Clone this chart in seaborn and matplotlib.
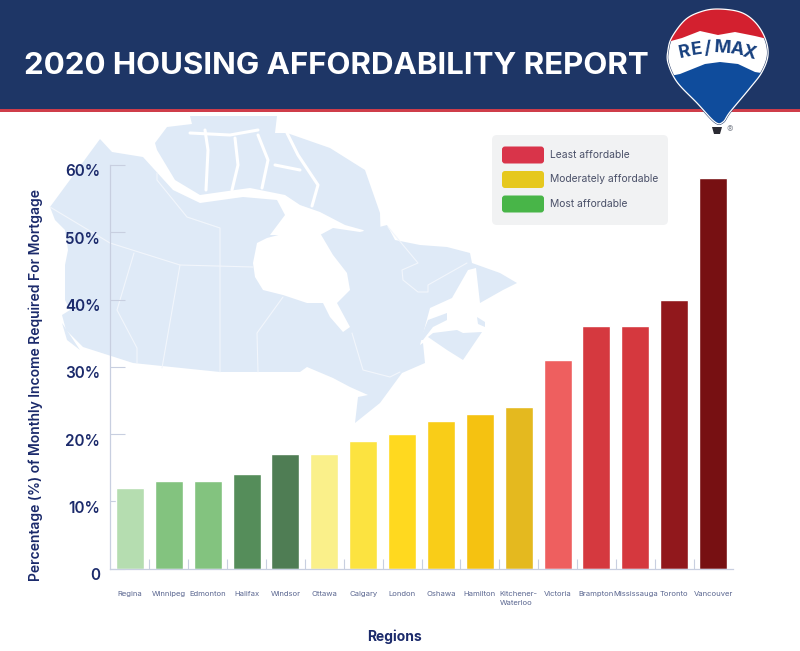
"""2020 housing affordability bar chart, with map backdrop and header."""

import matplotlib
matplotlib.use("Agg")
import matplotlib.pyplot as plt
import matplotlib.transforms as mtransforms
import numpy as np
import pandas as pd
import seaborn as sns
from matplotlib.patches import FancyBboxPatch, PathPatch, Polygon, Rectangle
from matplotlib.path import Path
from matplotlib.ticker import FixedLocator

REGIONS = ["Regina", "Winnipeg", "Edmonton", "Halifax", "Windsor", "Ottawa", "Calgary",
           "London", "Oshawa", "Hamilton", "Kitchener-\nWaterloo", "Victoria", "Brampton",
           "Mississauga", "Toronto", "Vancouver"]
INCOME_PCT = [12, 13, 13, 14, 17, 17, 19, 20, 22, 23, 24, 31, 36, 36, 40, 58]
BAR_COLORS = ["#B5DDB0", "#83C37F", "#83C37F", "#558D5A", "#4F7D54", "#FAF08A", "#FCE340",
              "#FFD91F", "#F9CD18", "#F5C211", "#E4B91F", "#EE5F5F", "#D5393F", "#D5383E",
              "#91181C", "#771012"]
LEGEND_LABELS = ["Least affordable", "Moderately affordable", "Most affordable"]
LEGEND_COLORS = ["#D9344A", "#E6C81E", "#48B548"]
Y_TICKS = [0, 10, 20, 30, 40, 50, 60]
Y_TICK_LABELS = ["0", "10%", "20%", "30%", "40%", "50%", "60%"]

NAVY = "#1E3666"
LABEL_NAVY = "#1B2A6B"
MAP_BLUE = "#DFEAF7"
AXIS_GREY = "#C8CFE0"

# rough outline of the backdrop map, in picture pixels
MAINLAND = [(50, 207), (100, 139), (112, 152), (143, 157), (173, 190), (200, 203), (243, 197),
            (277, 200), (285, 215), (270, 235), (320, 235), (333, 228), (360, 232), (387, 225),
            (395, 240), (420, 245), (447, 247), (470, 253), (472, 263), (500, 273), (517, 283),
            (503, 290), (480, 303), (476, 268), (468, 270), (452, 298), (430, 308), (420, 345),
            (423, 343), (425, 363), (402, 373), (380, 403), (355, 423), (358, 397), (368, 395),
            (350, 387), (333, 378), (307, 367), (300, 372), (220, 372), (133, 363), (83, 347),
            (66, 330), (62, 315), (70, 310), (65, 300), (65, 265), (68, 250), (65, 230), (55, 220)]
HUDSON_BAY = [(253, 263), (257, 243), (267, 238), (290, 232), (320, 233), (333, 255), (347, 273),
              (350, 290), (337, 303), (350, 327), (343, 332), (330, 317), (323, 303), (307, 303),
              (283, 295), (263, 290), (255, 277)]
ARCTIC = [(155, 143), (167, 127), (192, 124), (190, 116), (277, 116), (275, 133), (287, 133),
          (330, 148), (365, 170), (380, 213), (381, 245), (363, 230), (345, 225), (320, 212),
          (300, 205), (285, 195), (250, 188), (235, 190), (200, 195), (175, 180), (157, 150)]
ARCTIC_CHANNELS = [
    [(205, 130), (208, 150), (206, 190)],
    [(190, 133), (230, 135), (258, 130)],
    [(235, 138), (238, 165), (232, 190)],
    [(258, 135), (268, 160), (262, 188)],
    [(287, 133), (298, 155), (318, 185), (312, 206)],
    [(275, 165), (300, 170)],
]
ISLANDS = [
    [(62, 323), (80, 350), (67, 340)],
    [(420, 340), (428, 320), (447, 313), (447, 320), (433, 327), (423, 340)],
    [(433, 333), (457, 330), (463, 333), (482, 332), (463, 360), (447, 350), (428, 337)],
    [(477, 317), (485, 322), (485, 327), (478, 324)],
]
BORDERS = [
    [(50, 207), (110, 243), (180, 265), (253, 267)],
    [(134, 253), (117, 310), (137, 348), (137, 363)],
    [(180, 265), (162, 368)],
    [(157, 173), (157, 180), (187, 217), (220, 228), (220, 372)],
    [(283, 297), (257, 333), (258, 372)],
    [(352, 333), (363, 370), (390, 377), (400, 372)],
    [(388, 227), (418, 263), (402, 270), (403, 280), (418, 292), (428, 292), (428, 285), (467, 263)],
]

# balloon logo, in picture pixels
BALLOON = [(717, 9), (740, 12), (755, 22), (765, 38), (768, 55), (762, 72), (750, 88), (730, 112),
           (723, 122), (715, 122), (697, 103), (677, 82), (668, 63), (668, 50), (672, 37),
           (685, 20), (700, 12)]
BALLOON_RED = [(660, 0), (780, 0), (780, 42), (755, 36), (735, 32), (718, 35), (700, 31), (682, 38), (660, 44)]
BALLOON_BLUE = [(660, 78), (680, 74), (705, 64), (720, 62), (738, 64), (755, 72), (780, 76), (780, 130), (660, 130)]
LOGO_LETTERS = [("R", 685, 52, 12), ("E", 697, 50, 8), ("/", 708, 49, 4),
                ("M", 722, 48, -4), ("A", 737, 50, -10), ("X", 749, 53, -14)]


def smooth_closed(points, steps=12):
    """Closed Catmull-Rom curve through the given points."""
    pts = np.array(points, dtype=float)
    out = []
    n = len(pts)
    for i in range(n):
        p0, p1, p2, p3 = pts[i - 1], pts[i], pts[(i + 1) % n], pts[(i + 2) % n]
        for t in np.linspace(0, 1, steps, endpoint=False):
            out.append(0.5 * (2 * p1 + (p2 - p0) * t + (2 * p0 - 5 * p1 + 4 * p2 - p3) * t ** 2
                              + (3 * p1 - p0 - 3 * p2 + p3) * t ** 3))
    return np.array(out)


def draw_backdrop(bg):
    """Map, header band, logo and legend box on a pixel-coordinate axes."""
    bg.set_xlim(0, 800)
    bg.set_ylim(651, 0)
    bg.axis("off")

    bg.add_patch(Polygon(MAINLAND, fc=MAP_BLUE, ec="none"))
    bg.add_patch(Polygon(ARCTIC, fc=MAP_BLUE, ec="none"))
    bg.add_patch(Polygon(HUDSON_BAY, fc="white", ec="none"))
    for island in ISLANDS:
        bg.add_patch(Polygon(island, fc=MAP_BLUE, ec="none"))
    for line in ARCTIC_CHANNELS:
        xs, ys = zip(*line)
        bg.plot(xs, ys, color="white", lw=2.2)
    for line in BORDERS:
        xs, ys = zip(*line)
        bg.plot(xs, ys, color="#F2F6FC", lw=0.8)

    bg.add_patch(Rectangle((0, 0), 800, 109, fc=NAVY, ec="none"))
    bg.add_patch(Rectangle((0, 109), 800, 3, fc="#CF3D4A", ec="none"))
    bg.text(24, 66, "2020 HOUSING AFFORDABILITY REPORT", color="white", fontsize=22.5,
            fontweight="bold", va="center", ha="left")

    outline = smooth_closed(BALLOON)
    bg.add_patch(Polygon(outline, fc="white", ec=NAVY, lw=1.6, zorder=3))
    clip = PathPatch(Path(np.vstack([outline, outline[0]]), closed=True), transform=bg.transData,
                     fc="none", ec="none")
    bg.add_patch(clip)
    red = Polygon(BALLOON_RED, fc="#D3202F", ec="none", zorder=3.1)
    blue = Polygon(BALLOON_BLUE, fc="#0F4C9C", ec="none", zorder=3.1)
    for part in (red, blue):
        bg.add_patch(part)
        part.set_clip_path(clip)
    bg.add_patch(Polygon(outline, fc="none", ec="white", lw=0.9, zorder=3.2))
    for letter, x, y, rot in LOGO_LETTERS:
        bg.text(x, y, letter, color="#17407F", fontsize=13, fontweight="bold", rotation=rot,
                ha="center", va="center", zorder=4)
    bg.add_patch(Polygon([(712, 127), (722, 127), (720, 134), (714, 134)], fc="#2B2B33", ec="none"))
    bg.text(730, 130, "®", color="#8A8F99", fontsize=7, ha="center", va="center")

    bg.add_patch(FancyBboxPatch((496, 139), 168, 82, boxstyle="round,pad=4,rounding_size=5",
                                fc="#F1F2F3", ec="none"))
    for label, color, y in zip(LEGEND_LABELS, LEGEND_COLORS, (155, 179.5, 204)):
        bg.add_patch(FancyBboxPatch((505, y - 5.5), 36, 11, boxstyle="round,pad=3,rounding_size=3",
                                    fc=color, ec="none"))
        bg.text(550, y, label, color="#4A5068", fontsize=7.4, va="center", ha="left")


sns.set_theme(style="white")
plt.rcParams["font.family"] = ["Inter", "Lato", "DejaVu Sans"]

fig = plt.figure(figsize=(8, 6.51), dpi=100, facecolor="white")
bg = fig.add_axes([0, 0, 1, 1], zorder=0)
draw_backdrop(bg)

ax = fig.add_axes([110 / 800, 82.5 / 651, 623 / 800, 403.5 / 651], zorder=1)
ax.patch.set_alpha(0)

df = pd.DataFrame({"region": REGIONS, "pct": INCOME_PCT})
sns.barplot(data=df, x="region", y="pct", hue="region", palette=BAR_COLORS, legend=False,
            width=0.72, saturation=1, ax=ax)

ax.set_xlim(-0.515, 15.515)
ax.set_ylim(0, 60)
ax.set_yticks(Y_TICKS)
ax.set_yticklabels(Y_TICK_LABELS, fontsize=11, fontweight="semibold", color=LABEL_NAVY)
ax.xaxis.set_minor_locator(FixedLocator(np.arange(len(REGIONS) - 1) + 0.5))
ax.tick_params(axis="x", which="major", length=0, pad=16.5, labelsize=5.5, labelcolor="#5A6690")
ax.tick_params(axis="x", which="minor", bottom=True, direction="in", length=7, width=0.8, color=AXIS_GREY)
ax.tick_params(axis="y", left=True, direction="in", length=11, width=0.8, color=AXIS_GREY, pad=7)

# value labels sit a little below their gridmarks in the original
shift = mtransforms.ScaledTranslation(0, -5.5 / 100, fig.dpi_scale_trans)
for lab in ax.get_yticklabels():
    lab.set_transform(lab.get_transform() + shift)
for lab in ax.get_xticklabels():
    lab.set_multialignment("left")
    lab.set_linespacing(1.6)

sns.despine(ax=ax, top=True, right=True)
for side in ("left", "bottom"):
    ax.spines[side].set_color(AXIS_GREY)
    ax.spines[side].set_linewidth(0.9)

ax.set_xlabel("")
ax.set_ylabel("")
fig.text(395 / 800, 1 - 637 / 651, "Regions", color=LABEL_NAVY, fontsize=10, fontweight="bold",
         ha="center", va="center")
fig.text(36 / 800, 1 - 385 / 651, "Percentage (%) of Monthly Income Required For Mortgage",
         color=LABEL_NAVY, fontsize=10, fontweight="semibold", rotation=90, ha="center", va="center")

fig.savefig("out.png", dpi=100)
plt.close(fig)
